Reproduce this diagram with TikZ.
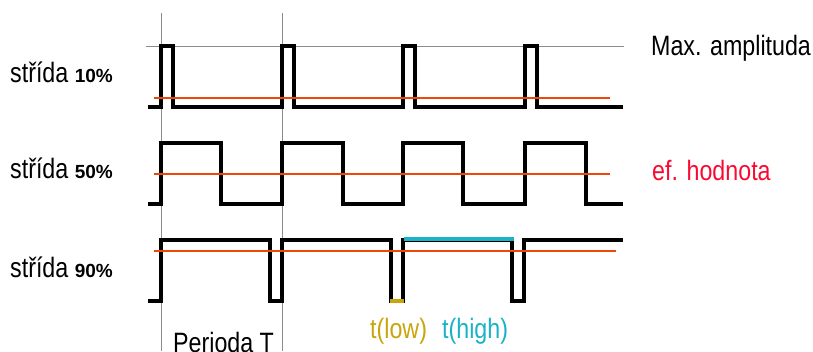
\documentclass[tikz,border=0pt]{standalone}
\usepackage{fontspec}
\setmainfont{Liberation Sans}
\newfontfamily\nf{Liberation Sans}[FakeStretch=0.83]
\definecolor{efred}{RGB}{250,10,50}
\definecolor{orng}{RGB}{240,70,10}
\definecolor{gold}{RGB}{200,165,10}
\definecolor{cyn}{RGB}{25,178,200}
\definecolor{gry}{RGB}{140,140,140}
\tikzset{
  wave/.style={line width=3.6bp, black, line join=miter},
  efline/.style={line width=2.5bp, orng},
  guide/.style={line width=0.9bp, gry},
  lbl/.style={anchor=base west, inner sep=0pt, font=\nf\fontsize{28bp}{31bp}\selectfont},
}
\newcommand{\pctf}{\normalfont\bfseries\fontsize{19bp}{21bp}\selectfont}
\begin{document}
\begin{tikzpicture}[x=1bp,y=-1bp]
\useasboundingbox (0,0) rectangle (813,351);
% guides
\draw[guide] (161,13) -- (161,351);
\draw[guide] (282,13) -- (282,351);
\draw[guide] (146,46) -- (624,46);
% row 1 (10%)
\draw[wave] (148,107) -- (161,107) -- (161,46) -- (173,46) -- (173,107) -- (282,107) -- (282,46) -- (294,46) -- (294,107) -- (403,107) -- (403,46) -- (415,46) -- (415,107) -- (525,107) -- (525,46) -- (537,46) -- (537,107) -- (623,107);
\draw[efline] (154,98) -- (610,98);
% row 2 (50%)
\draw[wave] (148,204) -- (161,204) -- (161,143) -- (221,143) -- (221,204) -- (282,204) -- (282,143) -- (343,143) -- (343,204) -- (403,204) -- (403,143) -- (463,143) -- (463,204) -- (525,204) -- (525,143) -- (586,143) -- (586,204) -- (623,204);
\draw[efline] (154,174) -- (610,174);
% row 3 (90%)
\draw[wave] (148,301) -- (161,301) -- (161,240) -- (270,240) -- (270,301) -- (282,301) -- (282,240) -- (391,240) -- (391,301) -- (403,301) -- (403,240) -- (512,240) -- (512,301) -- (524,301) -- (524,240) -- (623,240);
\draw[efline] (154,251) -- (616,251);
% t(low), t(high) markers
\coordinate (lowA) at (390,301);
\coordinate (lowB) at (404,301);
\coordinate (highA) at (404,239);
\coordinate (highB) at (514,239);
\draw[line width=4bp, gold] (lowA) -- (lowB);
\draw[line width=4bp, cyn] (highA) -- (highB);
% labels
\node[lbl] (s10) at (10,82) {střída {\pctf 10\%}};
\node[lbl] (s50) at (10,178) {střída {\pctf 50\%}};
\node[lbl] (s90) at (10,277) {střída {\pctf 90\%}};
\node[lbl] (max) at (651,55) {Max. amplituda};
\node[lbl, text=efred] (ef) at (652,180) {ef. hodnota};
\node[lbl] (per) at (173,352) {Perioda T};
\node[lbl, text=gold] (tl) at (370,338) {t(low)};
\node[lbl, text=cyn] (th) at (442,338) {t(high)};
\end{tikzpicture}
\end{document}
